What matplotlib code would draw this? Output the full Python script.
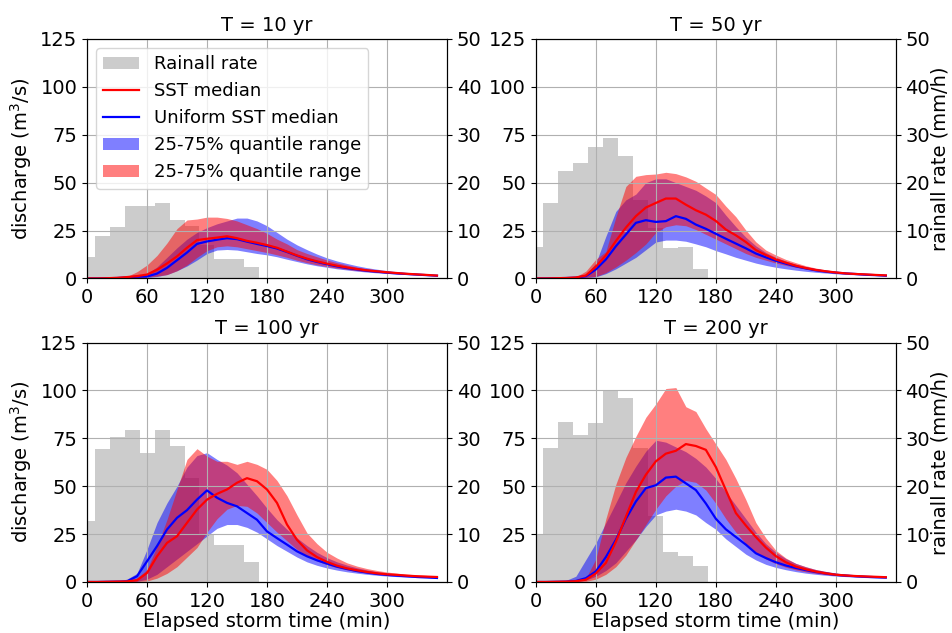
import numpy as np
import matplotlib
matplotlib.use('Agg')
import matplotlib.pyplot as plt

plt.rcParams['font.size'] = 14

# storm time (min) of the discharge series, rainfall bins (15 min)
t = np.arange(0, 360, 10)
rain_t = np.arange(0, 180, 15)

# T = 10 yr
rain_10 = [4.5, 8.9, 10.8, 15.1, 15.1, 15.8, 12.2, 11.0, 7.0, 4.0, 4.0, 2.4]
sst_med_10 = [0, 0, 0.1, 0.3, 0.7, 1.2, 2, 4.5, 7.8, 11.5, 16, 20, 20.7, 21.3, 22, 21, 19.6, 18.6,
              17.4, 16, 14, 12, 10.3, 8.9, 7.7, 6.6, 5.7, 4.9, 4.2, 3.7, 3.2, 2.8, 2.4, 2.1, 1.8, 1.5]
sst_q25_10 = [0, 0, 0, 0.1, 0.2, 0.4, 0.7, 1.2, 2, 4, 7, 11, 14.5, 16.5, 17, 16.5, 15.5, 14.5,
              13.5, 12.3, 11, 9.5, 8.2, 7.1, 6.2, 5.4, 4.7, 4.1, 3.6, 3.2, 2.8, 2.5, 2.2, 1.9, 1.6, 1.4]
sst_q75_10 = [0, 0, 0.1, 0.4, 1.0, 3.5, 7, 12, 18.5, 26, 30.5, 31, 32, 32, 31.3, 30, 28, 26,
              23.5, 20.5, 18, 15, 13, 11.3, 9.6, 8.2, 7, 5.9, 5, 4.4, 3.8, 3.2, 2.8, 2.4, 2.0, 1.7]
uni_med_10 = [0, 0, 0.1, 0.2, 0.5, 0.9, 1.0, 2.5, 5.5, 9.5, 13.5, 18, 19.3, 20.2, 21, 20.5, 19.2, 18,
              16.9, 15.6, 13.8, 11.8, 10, 8.6, 7.4, 6.3, 5.4, 4.7, 4.0, 3.5, 3.0, 2.6, 2.3, 2.0, 1.7, 1.4]
uni_q25_10 = [0, 0, 0, 0.1, 0.2, 0.3, 0.5, 1, 2, 4, 6.5, 9.6, 13, 14.8, 15.1, 14.8, 13.9, 13,
              12.3, 11.3, 10, 8.8, 7.6, 6.6, 5.8, 5, 4.4, 3.8, 3.3, 2.9, 2.6, 2.3, 2.0, 1.8, 1.5, 1.3]
uni_q75_10 = [0, 0, 0.1, 0.3, 0.6, 1.2, 2.5, 6, 11, 16, 20.5, 24, 26.5, 28.5, 30, 31.5, 31.5, 30,
              27.5, 24, 20.5, 17.5, 15, 12.7, 10.7, 9.1, 7.8, 6.6, 5.6, 4.8, 4.1, 3.5, 3.0, 2.6, 2.2, 1.9]

# T = 50 yr
rain_50 = [6.6, 15.7, 22.5, 24.1, 27.5, 29.4, 25.6, 16.4, 10.6, 6.4, 6.6, 1.9]
sst_med_50 = [0, 0, 0.1, 0.2, 0.5, 1.5, 6.1, 12, 19.5, 26.5, 32.5, 37, 39.4, 41.7, 41.7, 38.5, 35.6, 33.3,
              30, 25.5, 22.5, 19, 14.8, 12.2, 9.9, 8.2, 6.6, 5.4, 4.4, 3.7, 3.1, 2.6, 2.3, 2.1, 1.8, 1.6]
sst_q25_50 = [0, 0, 0, 0.1, 0.3, 0.6, 1, 3, 6, 9.5, 13.5, 18, 24, 27, 28, 27.5, 25.5, 23,
              20.5, 18, 15.5, 13, 11, 9.5, 8, 6.8, 5.8, 4.9, 4.2, 3.6, 3.1, 2.7, 2.4, 2.1, 1.8, 1.5]
sst_q75_50 = [0, 0, 0.1, 0.3, 0.8, 3.8, 10, 14, 32, 48, 53.3, 54.2, 54.5, 55.4, 54.7, 53, 50.7, 47.2,
              43.8, 37.7, 32.2, 25.2, 19.1, 14.8, 12.2, 9.9, 8.2, 6.6, 5.4, 4.5, 3.8, 3.1, 2.8, 2.4, 2.1, 1.8]
uni_med_50 = [0, 0, 0.1, 0.2, 0.4, 1.2, 4.7, 9.9, 16.8, 22.9, 29, 30.4, 29.5, 29.9, 32.5, 31.1, 28.1, 25.9,
              23.3, 20.7, 18.2, 15.7, 13, 11, 9.2, 7.7, 6.3, 5.2, 4.2, 3.5, 3.0, 2.6, 2.3, 1.9, 1.7, 1.4]
uni_q25_50 = [0, 0, 0, 0.1, 0.2, 0.4, 0.8, 2.5, 5, 8, 11, 15, 19, 20, 20, 19.4, 18, 16.5,
              14.5, 12.8, 11, 9.5, 8, 6.8, 5.8, 5, 4.3, 3.7, 3.2, 2.8, 2.4, 2.1, 1.9, 1.7, 1.5, 1.3]
uni_q75_50 = [0, 0, 0.1, 0.3, 0.7, 2, 8, 22, 35, 41, 44, 50, 52, 52, 50, 48, 46, 43,
              39.5, 33, 27, 21.5, 17, 13.5, 11, 9, 7.4, 6.1, 5.1, 4.3, 3.6, 3.1, 2.7, 2.3, 2.0, 1.7]

# T = 100 yr
rain_100 = [12.7, 27.8, 30.2, 31.7, 27.0, 31.7, 28.3, 21.8, 10.0, 7.8, 7.8, 4.1]
sst_med_100 = [0, 0, 0.1, 0.2, 0.3, 0.9, 4.7, 13.4, 20.4, 23.9, 30.9, 37.8, 43, 46, 48.3, 51.8, 54.2, 52.6,
               48.3, 41.3, 30, 22, 16.5, 13, 10.5, 8.5, 7.1, 6.1, 5.2, 4.5, 4.0, 3.7, 3.3, 3.0, 2.8, 2.6]
sst_q25_100 = [0, 0, 0, 0.1, 0.2, 0.3, 0.5, 2, 4.5, 8, 13, 18, 26, 33, 38, 40, 39.5, 36,
               31, 26, 21.5, 17, 13.5, 11, 9, 7.5, 6.3, 5.4, 4.7, 4.2, 3.7, 3.3, 3.0, 2.8, 2.6, 2.4]
sst_q75_100 = [0, 0, 0.1, 0.3, 0.8, 2, 6.5, 18.7, 32.6, 48.3, 64, 69.6, 65.7, 63, 63, 61.4, 63, 61.4,
               58.8, 53, 45, 35, 25.6, 20, 15.5, 12.5, 10, 8.3, 7, 6, 5.2, 4.6, 4.1, 3.7, 3.4, 3.1]
uni_med_100 = [0, 0, 0.1, 0.2, 0.3, 3, 10.8, 18.7, 27.4, 33.5, 37.5, 43, 47.8, 44, 41.3, 39.5, 36, 32.5,
               26.4, 22.9, 19.5, 16, 13.4, 11.3, 9.6, 8, 6.8, 5.7, 4.9, 4.2, 3.7, 3.3, 3.0, 2.6, 2.4, 2.1]
uni_q25_100 = [0, 0, 0, 0.1, 0.2, 0.3, 1.5, 4, 8, 12, 16, 20, 24, 28, 30, 30, 28.5, 26,
               22.5, 19, 16, 13, 10.5, 8.7, 7.3, 6.2, 5.3, 4.6, 4.0, 3.5, 3.1, 2.8, 2.5, 2.3, 2.1, 1.9]
uni_q75_100 = [0, 0, 0.1, 0.4, 1.5, 4.5, 17, 31, 41.3, 50, 60, 66, 67.5, 64, 61, 57, 51, 45,
               38.5, 32.5, 27.5, 23, 19, 15.5, 12.7, 10.5, 8.8, 7.4, 6.3, 5.4, 4.7, 4.1, 3.7, 3.3, 3.0, 2.7]

# T = 200 yr
rain_200 = [9.9, 28.0, 33.4, 30.8, 33.3, 40.0, 38.4, 28.0, 13.7, 6.3, 5.5, 3.4]
sst_med_200 = [0, 0, 0.1, 0.2, 0.4, 1.2, 4.5, 10, 21, 34, 47, 56, 63, 67, 68.5, 72, 71, 69,
               60, 48, 36, 29.5, 23.5, 18, 13.5, 10.3, 8, 6.6, 5.4, 4.5, 3.8, 3.4, 3.1, 2.9, 2.7, 2.5]
sst_q25_200 = [0, 0, 0, 0.1, 0.2, 0.3, 1.5, 4, 8, 14, 22, 30, 38, 45, 50, 53, 52, 48,
               41, 33, 26, 20, 15.5, 12, 9.5, 7.7, 6.3, 5.3, 4.5, 3.9, 3.4, 3.0, 2.8, 2.6, 2.4, 2.3]
sst_q75_200 = [0, 0, 0.1, 0.4, 1, 2, 12, 33, 51, 65, 76, 86, 93, 101, 101.5, 91.5, 89, 80,
               72, 64, 54, 43, 31, 23, 16.5, 12.5, 9.7, 8, 6.5, 5.5, 4.6, 4.1, 3.7, 3.4, 3.2, 3.0]
uni_med_200 = [0, 0, 0.1, 0.2, 0.5, 2, 5.5, 13, 22, 33, 42, 49, 50.5, 54.5, 55, 51.5, 48, 41,
               33, 27.5, 23.5, 19.5, 15, 12.5, 10.3, 8.6, 7.3, 6.2, 5.2, 4.4, 3.7, 3.3, 3.0, 2.7, 2.5, 2.3]
uni_q25_200 = [0, 0, 0, 0.1, 0.2, 1, 3, 6, 10, 16, 22, 29, 35, 37, 38, 37, 35, 31,
               27.5, 22.5, 18.5, 14.5, 11.5, 9.2, 7.6, 6.4, 5.4, 4.6, 4.0, 3.5, 3.1, 2.8, 2.5, 2.3, 2.1, 2.0]
uni_q75_200 = [0, 0, 0.2, 0.8, 3, 11.7, 20.4, 30.9, 41.3, 51.8, 60.5, 68.3, 74, 73, 70.5, 68, 64.5, 60,
               54, 47, 40, 33, 26, 20, 15.5, 12.2, 9.7, 7.9, 6.5, 5.5, 4.7, 4.1, 3.6, 3.3, 3.0, 2.8]

titles = ['T = 10 yr', 'T = 50 yr', 'T = 100 yr', 'T = 200 yr']
panels = [
    (rain_10, sst_med_10, sst_q25_10, sst_q75_10, uni_med_10, uni_q25_10, uni_q75_10),
    (rain_50, sst_med_50, sst_q25_50, sst_q75_50, uni_med_50, uni_q25_50, uni_q75_50),
    (rain_100, sst_med_100, sst_q25_100, sst_q75_100, uni_med_100, uni_q25_100, uni_q75_100),
    (rain_200, sst_med_200, sst_q25_200, sst_q75_200, uni_med_200, uni_q25_200, uni_q75_200),
]

fig, axes = plt.subplots(2, 2, figsize=(9.52, 6.33), dpi=100)
fig.subplots_adjust(left=0.0914, right=0.941, bottom=0.0806, top=0.9384, wspace=0.247, hspace=0.268)

for k, ax in enumerate(axes.flat):
    rain, sst_med, sst_q25, sst_q75, uni_med, uni_q25, uni_q75 = panels[k]
    # rainfall on the right axis, drawn behind the discharge axes
    ax2 = ax.twinx()
    bars = ax2.bar(rain_t, rain, width=15, color='0.8', linewidth=0)
    ax.set_zorder(ax2.get_zorder() + 1)
    ax.patch.set_visible(False)

    fb = ax.fill_between(t, uni_q25, uni_q75, color='blue', alpha=0.5, linewidth=0)
    fr = ax.fill_between(t, sst_q25, sst_q75, color='red', alpha=0.5, linewidth=0)
    lb, = ax.plot(t, uni_med, color='blue', lw=1.6)
    lr, = ax.plot(t, sst_med, color='red', lw=1.6)

    ax.set_xlim(0, 360)
    ax.set_xticks(np.arange(0, 360, 60))
    ax.set_ylim(0, 125)
    ax.set_yticks(np.arange(0, 126, 25))
    ax2.set_ylim(0, 50)
    ax2.set_yticks(np.arange(0, 51, 10))
    ax.grid(True)
    ax.set_title(titles[k], fontsize=14)

    if k % 2 == 0:
        ax.set_ylabel('discharge (m$^3$/s)')
    else:
        ax2.set_ylabel('rainall rate (mm/h)', labelpad=0)
    if k >= 2:
        ax.set_xlabel('Elapsed storm time (min)', labelpad=1)
    if k == 0:
        ax.legend([bars, lr, lb, fb, fr],
                  ['Rainall rate', 'SST median', 'Uniform SST median',
                   '25-75% quantile range', '25-75% quantile range'],
                  loc='upper left', fontsize=13)

fig.savefig('out.png', dpi=100)
